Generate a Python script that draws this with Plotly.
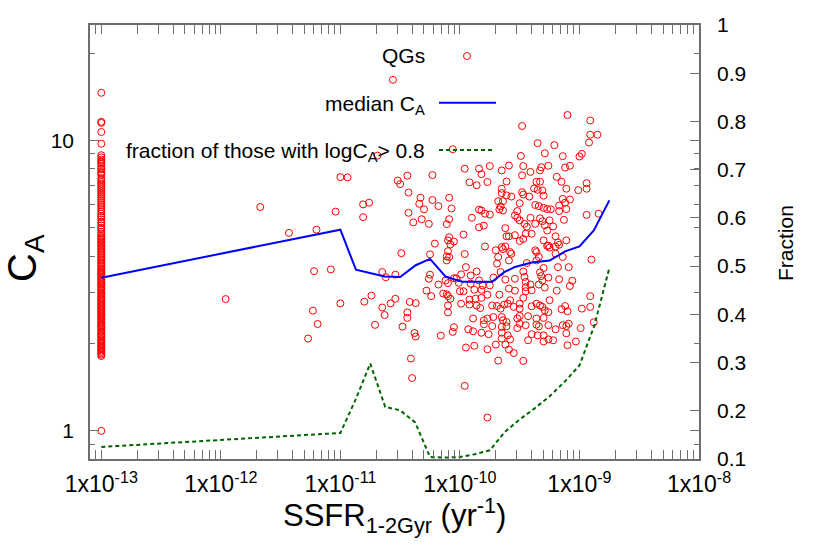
import plotly.graph_objects as go

# ---------------- data ----------------
# QGs whose SSFR sits at the floor value of 1e-13 yr^-1 (C_A values)
floor_ssfr = 1e-13
floor_ca = [14.6, 11.6, 11.5, 10.7, 9.75, 8.9, 8.75, 8.6, 8.5, 8.4, 8.3, 8.15, 8.0, 7.95,
            7.8, 7.7, 7.6, 7.4, 7.3, 7.2, 7.1, 7.0, 6.9, 6.8, 6.7, 6.6, 6.5, 6.4, 6.3, 6.2,
            6.1, 6.0, 5.9, 5.8, 5.7, 5.6, 5.5, 5.45, 5.35, 5.25, 5.2, 5.1, 5.0, 4.95, 4.85,
            4.78, 4.7, 4.65, 4.6, 4.55, 4.5, 4.45, 4.4, 4.35, 4.3, 4.25, 4.2, 4.15, 4.1,
            4.05, 4.0, 3.95, 3.9, 3.85, 3.8, 3.76, 3.72, 3.68, 3.63, 3.59, 3.55, 3.51, 3.48,
            3.44, 3.4, 3.36, 3.32, 3.28, 3.25, 3.21, 3.18, 3.14, 3.1, 3.07, 3.04, 3.0, 2.97,
            2.94, 2.9, 2.87, 2.84, 2.81, 2.78, 2.75, 2.72, 2.69, 2.66, 2.63, 2.6, 2.58, 2.55,
            2.52, 2.5, 2.47, 2.44, 2.42, 2.39, 2.36, 2.34, 2.31, 2.29, 2.27, 2.24, 2.21,
            2.19, 2.16, 2.14, 2.12, 2.1, 2.07, 2.05, 2.03, 2.01, 1.99, 1.97, 1.95, 1.93,
            1.91, 1.89, 1.87, 1.85, 1.83, 1.81, 1.0]

# remaining QGs: log10(SSFR) and log10(C_A)
log_ssfr_a = [-11.96, -11.67, -11.43, -11.27, -11.23, -11.22, -11.20, -11.19, -11.08, -11.04,
              -11.00, -11.00, -10.94, -10.81, -10.81, -10.80, -10.76, -10.74, -10.71, -10.69,
              -10.65, -10.65, -10.63, -10.62, -10.58, -10.56, -10.54, -10.54, -10.52, -10.50]
log_ca_a = [0.454, 0.771, 0.682, 0.318, 0.414, 0.550, 0.693, 0.368, 0.556, 0.755,
            0.874, 0.439, 0.873, 0.780, 0.736, 0.445, 0.786, 0.466, 0.365, 0.948,
            0.547, 0.425, 0.399, 0.529, 0.439, 1.209, 0.455, 0.538, 0.862, 0.850]

log_ssfr_b = [-10.49, -10.44, -10.43, -10.43, -10.39, -10.34, -10.33, -10.30, -10.23, -10.23,
              -10.18, -10.09, -10.07, -10.32, -10.26, -10.11, -10.09, -9.97, -10.09, -10.10,
              -10.05, -10.21, -10.08, -10.10, -10.11, -10.09, -10.25, -9.96, -10.06, -9.96]
log_ca_b = [0.612, 0.879, 0.821, 0.751, 0.718, 0.782, 0.803, 0.763, 0.881, 0.795,
            0.774, 0.803, 0.766, 0.729, 0.713, 0.712, 0.729, 0.676, 0.667, 0.656,
            0.652, 0.645, 0.642, 0.619, 0.601, 0.599, 0.608, 0.609, 0.970, 0.903]

log_ssfr_c = [-10.48, -10.44, -10.44, -10.42, -10.37, -10.38, -10.37, -10.41, -10.40, -10.28,
              -10.26, -10.25, -10.24, -10.18, -10.16, -10.14, -10.10, -10.11, -10.10, -10.08,
              -10.10, -10.10, -10.06, -10.05, -10.05, -10.03, -10.01, -10.00, -9.97, -9.99,
              -9.99, -9.96, -10.12, -10.11]
log_ca_c = [0.359, 0.408, 0.389, 0.444, 0.440, 0.337, 0.325, 0.249, 0.182, 0.483,
            0.524, 0.538, 0.464, 0.504, 0.328, 0.473, 0.509, 0.470, 0.464, 0.455,
            0.432, 0.408, 0.341, 0.357, 0.526, 0.525, 0.510, 0.481, 0.481, 0.438,
            0.539, 0.155, 0.518, 0.587]

log_ssfr_d = [-9.10, -8.91, -8.91, -8.85, -8.92, -9.48, -9.35, -9.21, -9.29, -9.49,
              -9.14, -8.98, -9.00, -9.84, -9.75, -9.82, -9.92, -9.86, -9.77, -9.65,
              -9.59, -9.61, -9.47, -9.48, -9.41, -9.33, -9.32, -9.26, -9.12, -9.08,
              -9.19, -9.15, -9.36, -9.33, -9.38, -9.30, -9.31, -8.94, -8.94, -9.01,
              -9.11, -9.65, -9.65, -9.61, -9.57, -9.68, -9.64, -9.48, -9.47, -9.42,
              -9.35, -9.50, -9.66, -9.67, -9.64, -9.52, -9.54, -9.52, -9.50, -9.46,
              -9.44, -9.41, -9.37, -9.34, -9.30, -9.27, -9.24, -9.17, -9.14, -9.08,
              -9.12, -9.11, -9.17, -9.13, -9.37, -9.33, -9.31, -9.25, -9.29, -9.27,
              -9.22, -9.62, -9.61, -9.59, -9.54, -9.50, -9.47, -9.45, -9.40, -9.30,
              -9.27, -9.25, -9.20, -9.18, -9.17, -9.11, -8.94, -8.84, -9.90, -9.84,
              -9.82, -9.79, -9.75, -9.80, -9.84, -9.79, -9.70, -9.65, -9.64, -9.62,
              -9.58, -9.57, -9.68, -9.37, -9.36, -9.34, -9.26, -8.90, -9.20, -9.20,
              -9.14]
log_ca_d = [1.088, 1.069, 1.020, 1.020, 0.993, 1.050, 0.991, 0.984, 0.956, 0.947,
            0.946, 0.954, 0.945, 0.903, 0.912, 0.884, 0.856, 0.846, 0.857, 0.897,
            0.914, 0.859, 0.912, 0.880, 0.892, 0.897, 0.908, 0.913, 0.907, 0.913,
            0.875, 0.858, 0.858, 0.858, 0.835, 0.810, 0.828, 0.853, 0.834, 0.829,
            0.834, 0.834, 0.819, 0.811, 0.807, 0.791, 0.791, 0.822, 0.814, 0.807,
            0.830, 0.784, 0.773, 0.763, 0.759, 0.757, 0.742, 0.734, 0.725, 0.713,
            0.703, 0.734, 0.778, 0.774, 0.768, 0.764, 0.763, 0.776, 0.799, 0.797,
            0.786, 0.764, 0.757, 0.727, 0.713, 0.732, 0.722, 0.725, 0.708, 0.690,
            0.704, 0.698, 0.670, 0.670, 0.674, 0.654, 0.661, 0.679, 0.679, 0.656,
            0.637, 0.631, 0.670, 0.649, 0.641, 0.656, 0.744, 0.748, 0.734, 0.762,
            0.759, 0.748, 0.745, 0.707, 0.701, 0.635, 0.622, 0.633, 0.626, 0.635,
            0.616, 0.610, 0.599, 0.622, 0.616, 0.599, 0.638, 0.590, 0.635, 0.610,
            0.599]

log_ssfr_e = [-9.86, -9.84, -9.81, -9.75, -9.88, -9.82, -9.92, -9.87, -9.82, -9.77,
              -9.86, -9.83, -9.92, -9.89, -9.80, -9.77, -9.72, -9.80, -9.73, -9.93,
              -9.89, -9.82, -9.76, -9.95, -9.88, -9.77, -9.68, -9.77, -9.69, -9.59,
              -9.66, -9.62, -9.54, -9.59, -9.67, -9.54, -9.60, -9.63, -9.58, -9.55,
              -9.50, -9.50, -9.69, -9.73, -9.66, -9.65, -9.64, -9.61, -9.61, -9.65,
              -9.52, -9.50, -9.52, -9.50, -9.43, -9.45, -9.65, -9.60, -9.58, -9.65,
              -9.70, -9.62, -9.59, -9.55, -9.47, -9.47, -9.46, -9.45, -9.45, -9.41,
              -9.40, -9.45, -9.47, -9.36, -9.30, -9.32, -9.31, -9.29, -9.34, -9.26,
              -9.19, -9.17, -9.08, -9.06, -9.09, -9.18, -9.36, -9.33, -9.31, -9.26,
              -9.25, -9.29, -9.36, -9.30, -9.36, -9.34, -9.26, -9.20, -9.12, -9.15,
              -9.10, -9.09, -9.11, -9.14, -9.11, -9.40, -9.35, -9.30, -9.30, -9.26,
              -9.22, -9.43, -8.99, -8.98, -8.91, -8.91, -8.88, -9.10, -9.03, -9.95,
              -9.91, -9.91, -9.44, -9.33, -9.72, -9.40]
log_ca_e = [0.549, 0.518, 0.501, 0.501, 0.486, 0.486, 0.452, 0.455, 0.458, 0.469,
            0.432, 0.423, 0.435, 0.387, 0.381, 0.387, 0.392, 0.367, 0.361, 0.350,
            0.343, 0.338, 0.333, 0.287, 0.293, 0.281, 0.242, 0.046, 0.576, 0.587,
            0.547, 0.521, 0.524, 0.490, 0.469, 0.483, 0.438, 0.435, 0.450, 0.427,
            0.438, 0.421, 0.430, 0.432, 0.421, 0.392, 0.381, 0.375, 0.360, 0.358,
            0.387, 0.369, 0.354, 0.396, 0.395, 0.364, 0.338, 0.329, 0.315, 0.318,
            0.297, 0.297, 0.280, 0.268, 0.241, 0.549, 0.530, 0.513, 0.495, 0.504,
            0.484, 0.481, 0.458, 0.587, 0.561, 0.533, 0.518, 0.494, 0.504, 0.528,
            0.483, 0.522, 0.499, 0.517, 0.564, 0.564, 0.438, 0.432, 0.427, 0.409,
            0.450, 0.415, 0.387, 0.389, 0.366, 0.360, 0.364, 0.350, 0.430, 0.419,
            0.412, 0.369, 0.361, 0.364, 0.336, 0.333, 0.329, 0.329, 0.308, 0.315,
            0.312, 0.312, 0.354, 0.421, 0.427, 0.464, 0.374, 0.295, 0.308, 0.564,
            0.535, 0.507, 0.578, 0.546, 0.528, 0.429]

# median C_A per SSFR bin
log_ssfr_median = [-13.00, -11.00, -10.87, -10.63, -10.50, -10.37, -10.25, -10.12, -9.98,
                   -9.73, -9.63, -9.54, -9.40, -9.25, -9.12, -9.00, -8.88, -8.75]
median_ca = [3.37, 4.93, 3.59, 3.40, 3.39, 3.72, 3.91, 3.40, 3.26,
             3.26, 3.52, 3.67, 3.80, 3.86, 4.15, 4.32, 4.90, 6.22]

# fraction of galaxies with log C_A > 0.8 per SSFR bin (right axis)
log_ssfr_frac = [-13.0, -11.0, -10.875, -10.75, -10.625, -10.5, -10.375, -10.25, -10.125,
                 -10.0, -9.875, -9.75, -9.625, -9.5, -9.375, -9.25, -9.125, -9.0, -8.875, -8.75]
fraction = [0.125, 0.154, 0.222, 0.298, 0.208, 0.201, 0.176, 0.104, 0.103,
            0.104, 0.110, 0.118, 0.156, 0.182, 0.205, 0.230, 0.260, 0.294, 0.377, 0.496]

x_tick_exponents = [-13, -12, -11, -10, -9, -8]
y_tick_values = [1, 10]
y2_tick_values = [0.1, 0.2, 0.3, 0.4, 0.5, 0.6, 0.7, 0.8, 0.9, 1.0]

# ---------------- figure ----------------
FONT = "Liberation Sans, Arial, sans-serif"
AXC = "#6e6e6e"

qg_x = [floor_ssfr] * len(floor_ca)
qg_y = list(floor_ca)
for lx, ly in [(log_ssfr_a, log_ca_a), (log_ssfr_b, log_ca_b), (log_ssfr_c, log_ca_c),
               (log_ssfr_d, log_ca_d), (log_ssfr_e, log_ca_e)]:
    qg_x += [10 ** v for v in lx]
    qg_y += [10 ** v for v in ly]

fig = go.Figure()
fig.add_trace(go.Scatter(
    x=qg_x, y=qg_y, mode="markers", name="QGs",
    marker=dict(symbol="circle-open", size=7, color="#ff0000",
                line=dict(width=1, color="#ff0000")),
    showlegend=False, cliponaxis=True))
fig.add_trace(go.Scatter(
    x=[10 ** v for v in log_ssfr_median], y=median_ca, mode="lines", name="median C_A",
    line=dict(color="#0000ff", width=2), showlegend=False))
fig.add_trace(go.Scatter(
    x=[10 ** v for v in log_ssfr_frac], y=fraction, mode="lines", yaxis="y2",
    name="fraction", line=dict(color="#006400", width=2, dash="4px,3px"),
    showlegend=False))

x_minor = []
for e in range(-14, -8):
    for k in range(2, 10):
        v = k * 10.0 ** e
        if 10 ** -13.09 < v < 1e-8:
            x_minor.append(v)
y_minor = [0.9] + list(range(2, 10)) + [20]

W, H = 830, 559
ML, MR, MT, MB = 90, 131, 25, 100
PW, PH = W - ML - MR, H - MT - MB


def px(x):
    return (x - ML) / PW


def py(y):
    return (H - MB - y) / PH


fig.update_layout(
    width=W, height=H,
    margin=dict(l=ML, r=MR, t=MT, b=MB, pad=0),
    paper_bgcolor="white", plot_bgcolor="white",
    font=dict(family=FONT, size=21, color="black"),
    showlegend=False,
    xaxis=dict(
        type="log", range=[-13.0946, -8.0], automargin=False,
        tickmode="array",
        tickvals=[10.0 ** e for e in x_tick_exponents],
        ticktext=["1x10<sup>%d</sup>" % e for e in x_tick_exponents],
        ticks="inside", ticklen=9, tickwidth=1, tickcolor=AXC,
        showline=True, linecolor=AXC, linewidth=1.5, mirror="allticks",
        showgrid=False, zeroline=False,
        ticklabelstandoff=4,
        tickfont=dict(size=23),
        minor=dict(tickmode="array", tickvals=x_minor, ticks="inside",
                   ticklen=5, tickwidth=1, tickcolor=AXC, showgrid=False),
    ),
    yaxis=dict(
        type="log", range=[-0.0969, 1.3979], automargin=False,
        tickmode="array", tickvals=y_tick_values,
        ticktext=[str(v) for v in y_tick_values],
        ticks="inside", ticklen=9, tickwidth=1, tickcolor=AXC,
        showline=True, linecolor=AXC, linewidth=1.5, mirror="allticks",
        showgrid=False, zeroline=False,
        ticklabelstandoff=10,
        tickfont=dict(size=21),
        minor=dict(tickmode="array", tickvals=y_minor, ticks="inside",
                   ticklen=5, tickwidth=1, tickcolor=AXC, showgrid=False),
    ),
    yaxis2=dict(
        overlaying="y", side="right", range=[0.1, 1.0], automargin=False,
        tickmode="array", tickvals=y2_tick_values,
        ticktext=["%g" % v for v in y2_tick_values],
        ticks="inside", ticklen=9, tickwidth=1, tickcolor=AXC,
        showline=False, showgrid=False, zeroline=False,
        ticklabelstandoff=17,
        tickfont=dict(size=21),
    ),
)

ann = []
# axis titles
ann.append(dict(text="SSFR<sub>1-2Gyr</sub> (yr<sup>-1</sup>)", x=0.5, y=py(515),
                xref="paper", yref="paper", xanchor="center", yanchor="middle",
                showarrow=False, font=dict(size=31)))
ann.append(dict(text="C<sub>A</sub>", x=px(25), y=py(258), xref="paper", yref="paper",
                xanchor="center", yanchor="middle", textangle=-90, showarrow=False,
                font=dict(size=40)))
ann.append(dict(text="Fraction", x=px(786), y=py(243), xref="paper", yref="paper",
                xanchor="center", yanchor="middle", textangle=-90, showarrow=False,
                font=dict(size=21)))
# key (gnuplot style: text right-justified, sample on the right)
ann.append(dict(text="QGs", x=px(427), y=py(56), xref="paper", yref="paper",
                xanchor="right", yanchor="middle", showarrow=False, font=dict(size=21)))
ann.append(dict(text="median C<sub>A</sub>", x=px(427), y=py(105), xref="paper", yref="paper",
                xanchor="right", yanchor="middle", showarrow=False, font=dict(size=21)))
ann.append(dict(text="fraction of those with logC<sub>A</sub>> 0.8", x=px(427), y=py(152),
                xref="paper", yref="paper", xanchor="right", yanchor="middle",
                showarrow=False, font=dict(size=21)))
fig.update_layout(annotations=ann)

shapes = [
    dict(type="circle", xref="paper", yref="paper", xsizemode="pixel", ysizemode="pixel",
         xanchor=px(467), yanchor=py(56), x0=-3.5, x1=3.5, y0=-3.5, y1=3.5,
         line=dict(color="#ff0000", width=1)),
    dict(type="line", xref="paper", yref="paper", x0=px(439), x1=px(496),
         y0=py(102.7), y1=py(102.7), line=dict(color="#0000ff", width=2)),
    dict(type="line", xref="paper", yref="paper", x0=px(439), x1=px(494),
         y0=py(150), y1=py(150), line=dict(color="#006400", width=2, dash="4px,3px")),
]
fig.update_layout(shapes=shapes)

fig.write_html("out.html", config={"displayModeBar": False},
               post_script="document.body.style.margin='0px';document.body.style.padding='0px';")
